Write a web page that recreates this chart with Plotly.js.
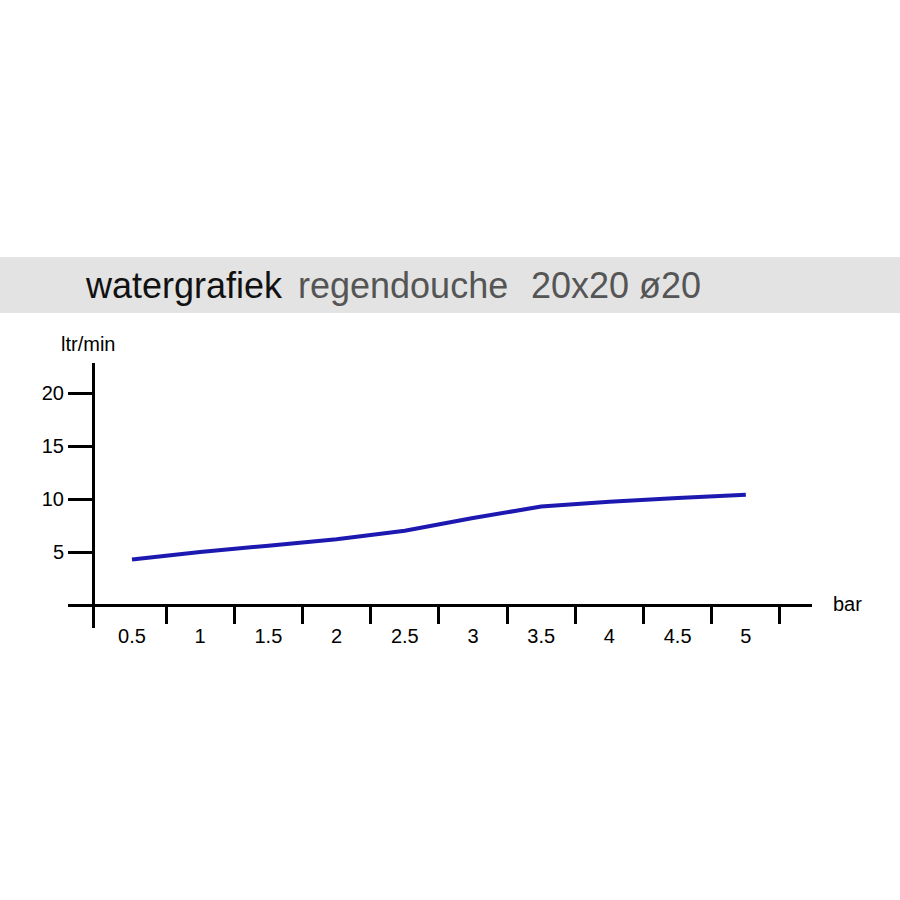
<!DOCTYPE html>
<html>
<head>
<meta charset="utf-8">
<script src="https://cdn.plot.ly/plotly-3.0.1.min.js"></script>
<style>html,body{margin:0;padding:0;background:#fff;}#chart{width:900px;height:900px;}</style>
</head>
<body>
<div id="chart"></div>
<script>
// Data
const pressureBar = [0.5, 1, 1.5, 2, 2.5, 3, 3.5, 4, 4.5, 5];
const flowLtrMin = [4.3, 5.0, 5.6, 6.2, 7.0, 8.2, 9.3, 9.75, 10.1, 10.4];
const xTickVals = [0.5, 1, 1.5, 2, 2.5, 3, 3.5, 4, 4.5, 5];
const xTickText = ['0.5', '1', '1.5', '2', '2.5', '3', '3.5', '4', '4.5', '5'];
const xMinorTicks = [0.75, 1.25, 1.75, 2.25, 2.75, 3.25, 3.75, 4.25, 4.75, 5.25];
const yTickVals = [5, 10, 15, 20];
const titleMain = 'watergrafiek';
const titleSub = 'regendouche';
const titleSize = '20x20 ø20';
const yUnit = 'ltr/min';
const xUnit = 'bar';

const W = 900, H = 900;
const px = v => v / W;          // horizontal pixel -> paper
const py = v => 1 - v / H;      // vertical pixel -> paper

const font = 'Liberation Sans, Arial, sans-serif';

const trace = {
  x: pressureBar,
  y: flowLtrMin,
  type: 'scatter',
  mode: 'lines',
  line: {color: '#1d19b0', width: 4},
  hoverinfo: 'skip'
};

const layout = {
  width: W, height: H,
  margin: {l: 0, r: 0, t: 0, b: 0},
  paper_bgcolor: '#ffffff',
  plot_bgcolor: 'rgba(0,0,0,0)',
  showlegend: false,
  font: {family: font, color: '#000', size: 20},
  xaxis: {
    domain: [px(68), px(812)],
    range: [0.031, 5.485],
    anchor: 'free',
    position: py(605),
    showline: false,
    showgrid: false,
    zeroline: false,
    tickmode: 'array',
    tickvals: xTickVals,
    ticktext: xTickText,
    ticks: 'outside',
    ticklen: 13,
    tickwidth: 0,
    tickcolor: 'rgba(0,0,0,0)',
    tickfont: {family: font, size: 20, color: '#000'},
    minor: {
      tickmode: 'array',
      tickvals: xMinorTicks,
      ticks: 'outside',
      ticklen: 18,
      tickwidth: 3,
      tickcolor: '#000',
      showgrid: false
    },
    fixedrange: true
  },
  yaxis: {
    domain: [py(628), py(363)],
    range: [-2.17, 22.83],
    anchor: 'free',
    position: px(93),
    showline: true,
    linewidth: 3,
    linecolor: '#000',
    showgrid: false,
    zeroline: true,
    zerolinewidth: 3,
    zerolinecolor: '#000',
    tickmode: 'array',
    tickvals: yTickVals,
    ticks: 'outside',
    ticklen: 24,
    tickwidth: 3,
    tickcolor: '#000',
    tickfont: {family: font, size: 20, color: '#000'},
    fixedrange: true
  },
  shapes: [
    {type: 'rect', xref: 'paper', yref: 'paper', x0: 0, x1: 1, y0: py(313), y1: py(257),
     fillcolor: '#e3e3e3', line: {width: 0}, layer: 'below'}
  ],
  annotations: [
    {text: titleMain, xref: 'paper', yref: 'paper', x: px(83), y: py(285), xanchor: 'left', yanchor: 'middle',
     showarrow: false, font: {family: font, size: 36, color: '#111'}},
    {text: titleSub, xref: 'paper', yref: 'paper', x: px(296), y: py(285), xanchor: 'left', yanchor: 'middle',
     showarrow: false, font: {family: font, size: 36, color: '#555'}},
    {text: titleSize, xref: 'paper', yref: 'paper', x: px(529), y: py(285), xanchor: 'left', yanchor: 'middle',
     showarrow: false, font: {family: font, size: 36, color: '#555'}},
    {text: yUnit, xref: 'paper', yref: 'paper', x: px(59), y: py(344), xanchor: 'left', yanchor: 'middle',
     showarrow: false, font: {family: font, size: 20, color: '#000'}},
    {text: xUnit, xref: 'paper', yref: 'paper', x: px(831), y: py(604), xanchor: 'left', yanchor: 'middle',
     showarrow: false, font: {family: font, size: 20, color: '#000'}}
  ]
};

Plotly.newPlot('chart', [trace], layout, {staticPlot: true, displayModeBar: false});
</script>
</body>
</html>
